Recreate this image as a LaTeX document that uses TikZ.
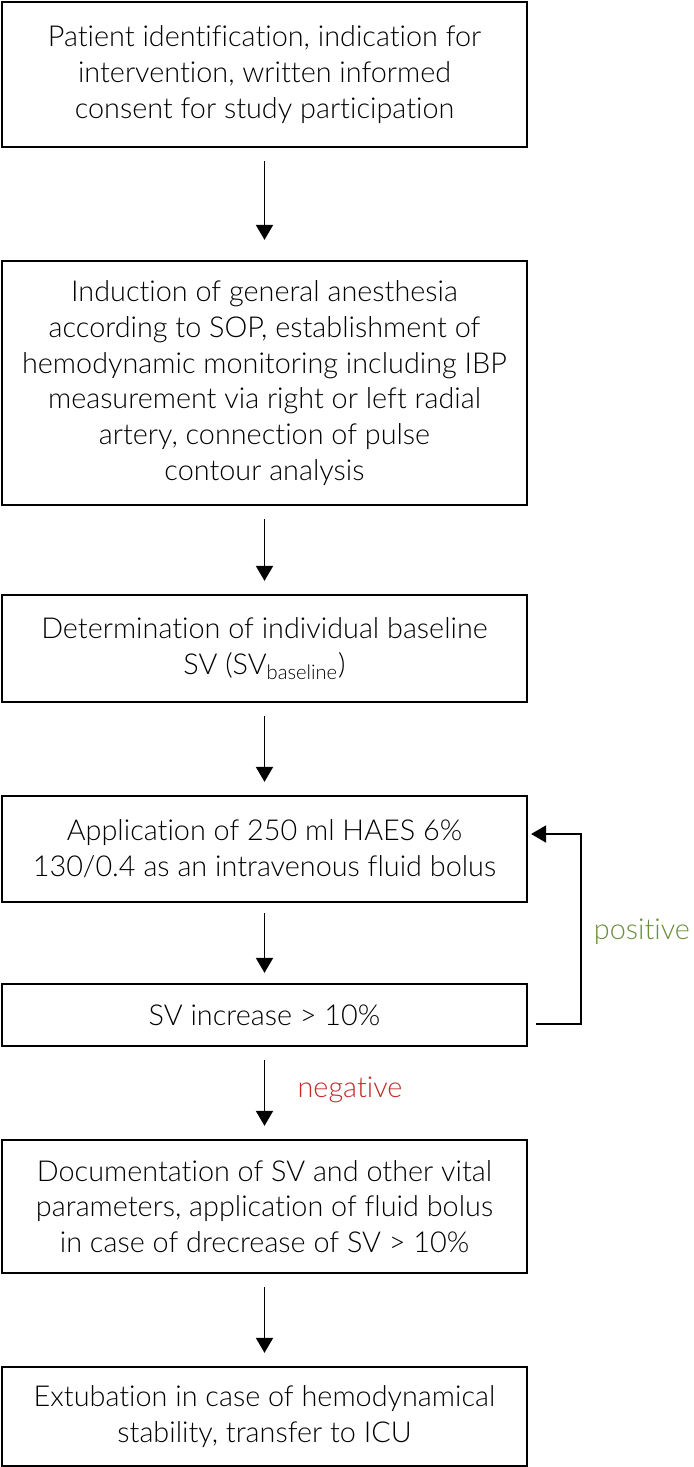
\documentclass[tikz,border=0pt]{standalone}
\usepackage{fontspec}
\setmainfont{Lato Light}[Ligatures=NoCommon]
\usepackage{xcolor}
\usetikzlibrary{arrows.meta,positioning}
\definecolor{posgreen}{RGB}{106,142,58}
\definecolor{negred}{RGB}{200,40,40}

\begin{document}
\begin{tikzpicture}[
  x=0.02cm, y=-0.02cm,
  >={Triangle[length=0.3cm, width=0.34cm]},
  stepbox/.style={draw, line width=1.3pt, minimum width=10.5cm, align=center,
    inner sep=0pt, font=\fontsize{16.4}{20.4}\selectfont},
  flow/.style={->, line width=1pt, shorten <=0.26cm, shorten >=0.26cm},
  lbl/.style={font=\fontsize{16.4}{20.4}\selectfont},
]
\useasboundingbox (0,0) rectangle (693,1467);
% nodes
\node[stepbox, minimum height=2.9cm] (ident) at (264.5,74.5)
  {Patient identification, indication for\\intervention, written informed\\consent for study participation};
\node[stepbox, minimum height=4.88cm] (induct) at (264.5,383)
  {Induction of general anesthesia\\according to SOP, establishment of\\hemodynamic monitoring including IBP\\measurement via right or left radial\\artery, connection of pulse\\contour analysis};
\node[stepbox, minimum height=2.14cm] (baseline) at (264.5,648.5)
  {Determination of individual baseline\\SV (SV\textsubscript{baseline})};
\node[stepbox, minimum height=2.12cm] (bolus) at (264.5,849)
  {Application of 250 ml HAES 6\%\\130/0.4 as an intravenous fluid bolus};
\node[stepbox, minimum height=1.24cm] (check) at (264.5,1015)
  {SV increase > 10\%};
\node[stepbox, minimum height=2.66cm] (docu) at (264.5,1206.5)
  {Documentation of SV and other vital\\parameters, application of fluid bolus\\in case of drecrease of SV > 10\%};
\node[stepbox, minimum height=1.98cm] (extub) at (264.5,1416.5)
  {Extubation in case of hemodynamical\\stability, transfer to ICU};
% loop back on a positive response
\coordinate (loopout) at ([xshift=0.16cm, yshift=-0.18cm]check.east);
\coordinate (loopin) at ([xshift=0.06cm, yshift=0.3cm]bolus.east);
\node[lbl, text=posgreen, anchor=east, inner sep=1pt] (pos) at (692,932) {positive};
\node[lbl, text=negred] (neg) at (350,1090) {negative};
% edges
\draw[flow, shorten >=0.4cm] (ident) -- (induct);
\draw[flow] (induct) -- (baseline);
\draw[flow] (baseline) -- (bolus);
\draw[flow, shorten <=0.2cm, shorten >=0.2cm] (bolus) -- (check);
\draw[flow] (check) -- (docu);
\draw[flow] (docu) -- (extub);
\draw[->, line width=1pt] (loopout) -- ++(0.9cm,0) |- (loopin);
\end{tikzpicture}
\end{document}
